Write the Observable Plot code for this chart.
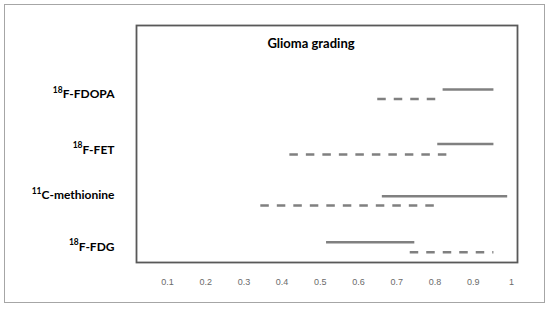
<!DOCTYPE html>
<html>
<head>
<meta charset="utf-8">
<script src="https://cdn.jsdelivr.net/npm/d3@7"></script>
<script src="https://cdn.jsdelivr.net/npm/@observablehq/plot@0.6"></script>
<style>
  html, body { margin: 0; padding: 0; background: #fff; }
  #wrap { position: relative; width: 550px; height: 309px; }
  #border { position: absolute; left: 4px; top: 4px; width: 539px; height: 297px; border: 1.5px solid #a6a6a6; pointer-events: none; }
  svg { display: block; }
</style>
</head>
<body>
<div id="wrap"><div id="border"></div></div>
<script>
const title = "Glioma grading";
const isotopes = ["18", "18", "11", "18"];
const tracerNames = ["F-FDOPA", "F-FET", "C-methionine", "F-FDG"];
const tracers = tracerNames.map((n, i) => isotopes[i] + n);
const labelY = [0.715, 0.482, 0.29, 0.072];
const solidStart = [0.82, 0.806, 0.661, 0.515];
const solidEnd = [0.953, 0.953, 0.989, 0.746];
const solidY = [0.73, 0.5, 0.28, 0.085];
const dashStart = [0.649, 0.419, 0.343, 0.734];
const dashEnd = [0.804, 0.832, 0.802, 0.953];
const dashY = [0.69, 0.456, 0.24, 0.043];
const xTicks = [0.1, 0.2, 0.3, 0.4, 0.5, 0.6, 0.7, 0.8, 0.9, 1];
const xTickLabels = ["0.1", "0.2", "0.3", "0.4", "0.5", "0.6", "0.7", "0.8", "0.9", "1"];

const idx = tracers.map((_, i) => i);
const lineColor = "#808080";

const chart = Plot.plot({
  width: 550,
  height: 309,
  marginLeft: 136,
  marginRight: 33,
  marginTop: 25,
  marginBottom: 47,
  style: { fontFamily: "Lato, sans-serif", background: "transparent" },
  x: { domain: [0.019, 1.016] },
  y: { domain: [0, 1], axis: null },
  marks: [
    Plot.frame({ stroke: "#595959", strokeWidth: 1.8 }),
    Plot.axisX({
      ticks: xTicks,
      tickSize: 0,
      tickPadding: 16,
      tickFormat: (d) => xTickLabels[xTicks.indexOf(d)],
      fontSize: 9,
      fontFamily: "Liberation Sans, Arial, sans-serif",
      color: "#6b6b6b",
      label: null
    }),
    Plot.link(idx, {
      x1: (i) => solidStart[i], x2: (i) => solidEnd[i],
      y1: (i) => solidY[i], y2: (i) => solidY[i],
      stroke: lineColor, strokeWidth: 2.5
    }),
    Plot.link(idx, {
      x1: (i) => dashStart[i], x2: (i) => dashEnd[i],
      y1: (i) => dashY[i], y2: (i) => dashY[i],
      stroke: lineColor, strokeWidth: 2.5, strokeDasharray: "8.5,8"
    }),
    Plot.text(idx, {
      y: (i) => labelY[i],
      frameAnchor: "left",
      text: (i) => tracers[i],
      textAnchor: "end",
      dx: -22,
      fontSize: 12,
      fontWeight: "bold",
      fill: "#000",
      className: "tracer-label"
    }),
    Plot.text([title], {
      frameAnchor: "top",
      lineAnchor: "middle",
      dy: 18,
      dx: -16,
      fontSize: 13,
      fontWeight: "bold",
      fill: "#000"
    })
  ]
});

document.getElementById("wrap").prepend(chart);

// superscript isotope numbers
d3.select(chart).selectAll(".tracer-label text").each(function(i) {
  const t = d3.select(this);
  t.text(null);
  t.append("tspan").attr("font-size", 8.5).attr("dy", "-0.45em").text(isotopes[i]);
  t.append("tspan").attr("dy", "0.45em").text(tracerNames[i]);
});
</script>
</body>
</html>
